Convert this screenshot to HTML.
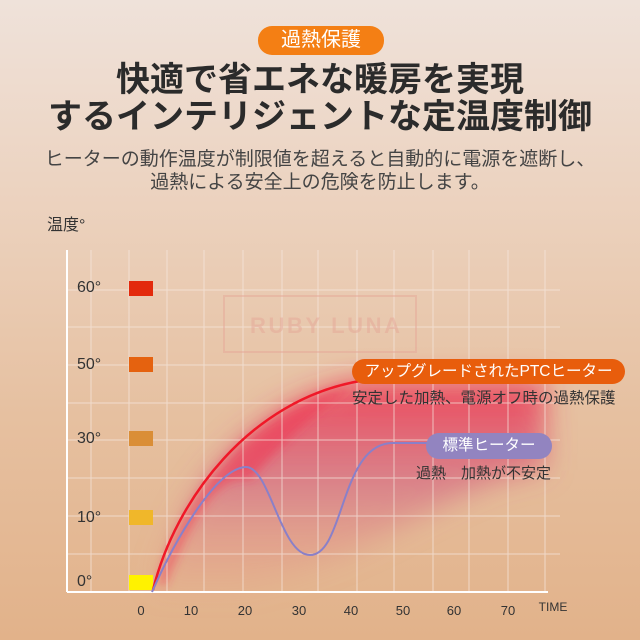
<!DOCTYPE html>
<html><head><meta charset="utf-8"><style>
html,body{margin:0;padding:0}
body{width:640px;height:640px;overflow:hidden;position:relative;font-family:"Liberation Sans","Noto Sans CJK JP",sans-serif;
background:linear-gradient(180deg,#efe2da 0%,#ecd3c0 30%,#e6c0a0 65%,#e2b28a 100%);}
.abs{position:absolute}
.pill{position:absolute;border-radius:14px;color:#fff;text-align:center;white-space:nowrap}
.t{position:absolute;left:0;width:640px;text-align:center;white-space:nowrap}
</style></head><body>
<div class="pill" style="left:258px;top:26px;width:126px;height:29px;line-height:29px;background:#f47f14;font-size:20px;">過熱保護</div>
<div class="t" style="top:59px;font-size:34px;font-weight:bold;color:#2b2b2b;line-height:42px;">快適で省エネな暖房を実現</div>
<div class="t" style="top:96px;font-size:34px;font-weight:bold;color:#2b2b2b;line-height:42px;">するインテリジェントな定温度制御</div>
<div class="t" style="top:148px;font-size:19px;color:#444;line-height:24px;">ヒーターの動作温度が制限値を超えると自動的に電源を遮断し、</div>
<div class="t" style="top:171px;font-size:19px;color:#444;line-height:24px;">過熱による安全上の危険を防止します。</div>

<svg class="abs" style="left:0;top:0" width="640" height="640">
<defs>
<linearGradient id="fg" x1="0" y1="0" x2="0" y2="1">
<stop offset="0" stop-color="#f02848" stop-opacity="0.85"/>
<stop offset="0.5" stop-color="#d05a80" stop-opacity="0.6"/>
<stop offset="1" stop-color="#e89080" stop-opacity="0.15"/>
</linearGradient>
<filter id="bl" x="-30%" y="-30%" width="160%" height="160%"><feGaussianBlur stdDeviation="14"/></filter>
<filter id="bl2" x="-30%" y="-30%" width="160%" height="160%"><feGaussianBlur stdDeviation="5"/></filter>
</defs>
<g filter="url(#bl)">
<path d="M153,590 C175,500 250,400 360,381 L545,381 L545,470 C450,480 380,560 240,590 Z" fill="url(#fg)" opacity="0.95"/>
</g>
<g filter="url(#bl2)">
<path d="M158,585 C180,500 250,405 355,386 C300,420 260,470 250,480 C220,470 190,520 165,585 Z" fill="#f03050" opacity="0.55"/>
</g>
<g stroke="#f6e8e0" stroke-width="1" opacity="0.7">
<line x1="91" y1="250" x2="91" y2="592"/><line x1="129" y1="250" x2="129" y2="592"/>
<line x1="167" y1="250" x2="167" y2="592"/><line x1="204" y1="250" x2="204" y2="592"/>
<line x1="243" y1="250" x2="243" y2="592"/><line x1="282" y1="250" x2="282" y2="592"/>
<line x1="318" y1="250" x2="318" y2="592"/><line x1="357" y1="250" x2="357" y2="592"/>
<line x1="394" y1="250" x2="394" y2="592"/><line x1="433" y1="250" x2="433" y2="592"/>
<line x1="469" y1="250" x2="469" y2="592"/><line x1="508" y1="250" x2="508" y2="592"/>
<line x1="545" y1="250" x2="545" y2="592"/>
<line x1="67" y1="290" x2="560" y2="290"/><line x1="67" y1="327" x2="560" y2="327"/>
<line x1="67" y1="365" x2="560" y2="365"/><line x1="67" y1="403" x2="560" y2="403"/>
<line x1="67" y1="440" x2="560" y2="440"/><line x1="67" y1="478" x2="560" y2="478"/>
<line x1="67" y1="516" x2="560" y2="516"/><line x1="67" y1="554" x2="560" y2="554"/>
</g>
<g stroke="#fff" stroke-width="2"><line x1="67" y1="250" x2="67" y2="592"/><line x1="67" y1="592" x2="548" y2="592"/></g>
<rect x="224" y="296" width="192" height="56" fill="none" stroke="#e6a898" stroke-width="2" opacity="0.5"/>
<text x="250" y="333" font-size="22" font-weight="bold" fill="#e6a898" opacity="0.5" font-family="Liberation Sans" textLength="150">RUBY LUNA</text>
<rect x="129" y="281" width="24" height="15" fill="#e32a0c"/>
<rect x="129" y="357" width="24" height="15" fill="#e5620f"/>
<rect x="129" y="431" width="24" height="15" fill="#da8e37"/>
<rect x="129" y="510" width="24" height="15" fill="#f0b72a"/>
<rect x="129" y="575" width="24" height="15" fill="#fff200"/>
<path d="M153,590 C175,500 250,400 360,381" fill="none" stroke="#f01828" stroke-width="2.5"/>
<path d="M152,592 C175,540 215,470 245,467 C270,465 280,555 310,555 C345,555 340,440 395,443 L430,443" fill="none" stroke="#8a80c8" stroke-width="2"/>
<g font-size="16" fill="#333" font-family="Liberation Sans">
<text x="77" y="292">60°</text><text x="77" y="369">50°</text><text x="77" y="443">30°</text>
<text x="77" y="522">10°</text><text x="77" y="586">0°</text>
</g>
<g font-size="13" fill="#333" font-family="Liberation Sans" text-anchor="middle">
<text x="141" y="615">0</text><text x="191" y="615">10</text><text x="245" y="615">20</text><text x="299" y="615">30</text>
<text x="351" y="615">40</text><text x="403" y="615">50</text><text x="454" y="615">60</text><text x="508" y="615">70</text>
<text x="553" y="611" font-size="12">TIME</text>
</g>
<text x="47" y="230" font-size="16" fill="#333" font-family="Liberation Sans, Noto Sans CJK JP, sans-serif">温度°</text>
</svg>
<div class="pill" style="left:352px;top:359px;width:273px;height:25px;line-height:25px;background:#e85d0c;font-size:15.5px;">アップグレードされたPTCヒーター</div>
<div class="abs" style="left:352px;top:386px;font-size:15.5px;color:#333;white-space:nowrap">安定した加熱、電源オフ時の過熱保護</div>
<div class="pill" style="left:426px;top:433px;width:126px;height:26px;line-height:26px;background:#9284c0;font-size:15.5px;">標準ヒーター</div>
<div class="abs" style="left:416px;top:462px;font-size:15px;color:#333;white-space:nowrap">過熱　加熱が不安定</div>
</body></html>
